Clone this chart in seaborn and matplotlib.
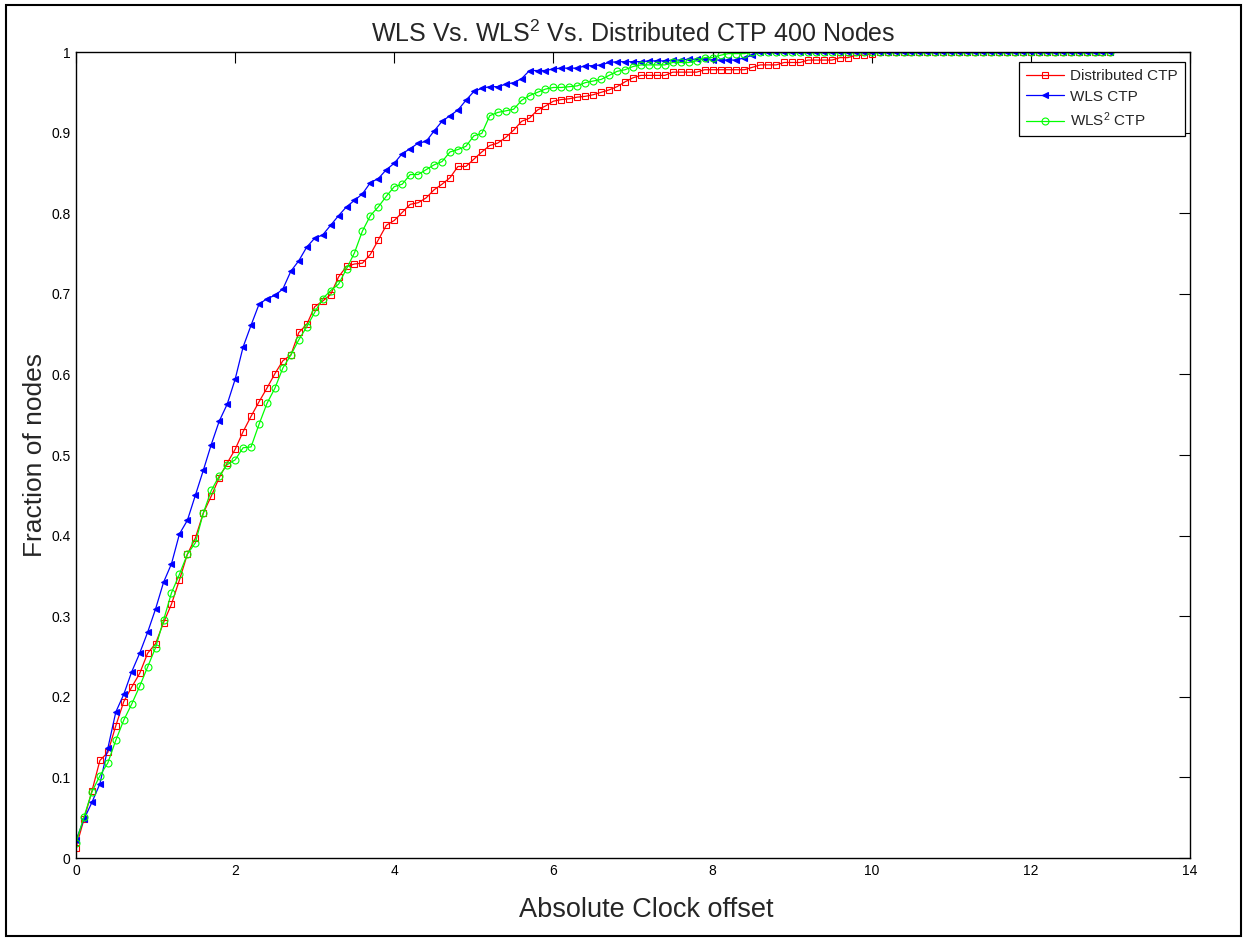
import numpy as np
import pandas as pd
import matplotlib
matplotlib.use("Agg")
import matplotlib.pyplot as plt
import seaborn as sns
from matplotlib.patches import Rectangle

# ---------------- data ----------------
x_offset = [round(0.1 * i, 1) for i in range(131)]  # 0.0 .. 13.0

distributed_ctp = [
    0.013, 0.048, 0.083, 0.121, 0.131, 0.164, 0.194, 0.212, 0.229, 0.254,
    0.266, 0.292, 0.315, 0.345, 0.377, 0.397, 0.428, 0.449, 0.472, 0.490,
    0.507, 0.529, 0.548, 0.566, 0.583, 0.601, 0.617, 0.624, 0.652, 0.662,
    0.684, 0.691, 0.699, 0.721, 0.734, 0.737, 0.738, 0.749, 0.767, 0.785,
    0.791, 0.801, 0.811, 0.813, 0.819, 0.829, 0.836, 0.844, 0.858, 0.858,
    0.867, 0.876, 0.884, 0.887, 0.894, 0.903, 0.914, 0.918, 0.928, 0.933,
    0.939, 0.941, 0.942, 0.944, 0.945, 0.947, 0.950, 0.953, 0.957, 0.963,
    0.968, 0.971, 0.971, 0.971, 0.971, 0.975, 0.975, 0.975, 0.975, 0.978,
    0.978, 0.978, 0.978, 0.978, 0.978, 0.981, 0.984, 0.984, 0.984, 0.987,
    0.987, 0.987, 0.990, 0.990, 0.990, 0.990, 0.993, 0.993, 0.996, 0.996,
    0.998, 1.0, 1.0, 1.0, 1.0, 1.0, 1.0, 1.0, 1.0, 1.0,
    1.0, 1.0, 1.0, 1.0, 1.0, 1.0, 1.0, 1.0, 1.0, 1.0,
    1.0, 1.0, 1.0, 1.0, 1.0, 1.0, 1.0, 1.0, 1.0, 1.0,
    1.0,
]

wls_ctp = [
    0.022, 0.048, 0.069, 0.092, 0.136, 0.181, 0.203, 0.231, 0.254, 0.280,
    0.309, 0.342, 0.365, 0.402, 0.419, 0.450, 0.481, 0.513, 0.542, 0.563,
    0.594, 0.634, 0.661, 0.687, 0.694, 0.698, 0.706, 0.728, 0.741, 0.758,
    0.769, 0.773, 0.785, 0.797, 0.808, 0.816, 0.824, 0.838, 0.843, 0.854,
    0.862, 0.874, 0.880, 0.887, 0.889, 0.902, 0.914, 0.921, 0.928, 0.940,
    0.951, 0.955, 0.957, 0.957, 0.960, 0.962, 0.967, 0.977, 0.977, 0.977,
    0.979, 0.980, 0.980, 0.980, 0.983, 0.983, 0.984, 0.987, 0.988, 0.988,
    0.988, 0.988, 0.989, 0.989, 0.989, 0.990, 0.990, 0.991, 0.991, 0.991,
    0.990, 0.990, 0.990, 0.990, 0.993, 0.996, 1.0, 1.0, 1.0, 1.0,
    1.0, 1.0, 1.0, 1.0, 1.0, 1.0, 1.0, 1.0, 1.0, 1.0,
    1.0, 1.0, 1.0, 1.0, 1.0, 1.0, 1.0, 1.0, 1.0, 1.0,
    1.0, 1.0, 1.0, 1.0, 1.0, 1.0, 1.0, 1.0, 1.0, 1.0,
    1.0, 1.0, 1.0, 1.0, 1.0, 1.0, 1.0, 1.0, 1.0, 1.0,
    1.0,
]

wls2_ctp = [
    0.019, 0.051, 0.082, 0.102, 0.118, 0.146, 0.171, 0.191, 0.213, 0.237,
    0.261, 0.295, 0.329, 0.352, 0.377, 0.391, 0.428, 0.456, 0.474, 0.488,
    0.494, 0.509, 0.510, 0.538, 0.564, 0.583, 0.608, 0.624, 0.643, 0.659,
    0.677, 0.694, 0.704, 0.712, 0.731, 0.751, 0.778, 0.797, 0.808, 0.821,
    0.833, 0.836, 0.848, 0.848, 0.854, 0.860, 0.864, 0.876, 0.879, 0.883,
    0.896, 0.899, 0.921, 0.925, 0.927, 0.929, 0.940, 0.946, 0.950, 0.954,
    0.956, 0.956, 0.957, 0.958, 0.962, 0.964, 0.966, 0.971, 0.976, 0.978,
    0.982, 0.984, 0.984, 0.984, 0.984, 0.987, 0.987, 0.987, 0.989, 0.993,
    0.993, 0.996, 0.998, 0.998, 0.998, 1.0, 1.0, 1.0, 1.0, 1.0,
    1.0, 1.0, 1.0, 1.0, 1.0, 1.0, 1.0, 1.0, 1.0, 1.0,
    1.0, 1.0, 1.0, 1.0, 1.0, 1.0, 1.0, 1.0, 1.0, 1.0,
    1.0, 1.0, 1.0, 1.0, 1.0, 1.0, 1.0, 1.0, 1.0, 1.0,
    1.0, 1.0, 1.0, 1.0, 1.0, 1.0, 1.0, 1.0, 1.0, 1.0,
    1.0,
]

series_names = ["Distributed CTP", "WLS CTP", "WLS$^2$ CTP"]
x_ticks = [0, 2, 4, 6, 8, 10, 12, 14]
y_ticks = [0, 0.1, 0.2, 0.3, 0.4, 0.5, 0.6, 0.7, 0.8, 0.9, 1]
y_tick_labels = ["0", "0.1", "0.2", "0.3", "0.4", "0.5", "0.6", "0.7", "0.8", "0.9", "1"]

# ---------------- style ----------------
sns.set_theme(style="white")
plt.rcParams["font.family"] = ["Liberation Sans", "DejaVu Sans"]
plt.rcParams["mathtext.fontset"] = "custom"
plt.rcParams["mathtext.rm"] = "Liberation Sans"
plt.rcParams["mathtext.default"] = "regular"

fig = plt.figure(figsize=(12.47, 9.40), dpi=100)
fig.patch.set_facecolor("white")
ax = fig.add_axes([76 / 1247, 1 - 858 / 940, (1190 - 76) / 1247, (858 - 52) / 940])

styles = [
    dict(color=(1, 0, 0), marker="s", mfc="none", ms=5, mew=0.8),
    dict(color=(0, 0, 1), marker="<", mfc=(0, 0, 1), ms=4.5, mew=0.8),
    dict(color=(0, 1, 0), marker="o", mfc="none", ms=5, mew=0.8),
]
for name, vals, st in zip(series_names, [distributed_ctp, wls_ctp, wls2_ctp], styles):
    df = pd.DataFrame({"x": x_offset, "y": vals})
    sns.lineplot(data=df, x="x", y="y", ax=ax, color=st["color"], lw=0.9,
                 marker=st["marker"], markersize=st["ms"],
                 markerfacecolor=st["mfc"], markeredgecolor=st["color"],
                 markeredgewidth=st["mew"], label=name)

ax.set_xlim(0, 14)
ax.set_ylim(0, 1)
ax.set_xticks(x_ticks)
ax.set_yticks(y_ticks)
ax.set_yticklabels(y_tick_labels)
ax.tick_params(axis="both", which="both", direction="in", length=8, width=0.8,
               top=True, right=True, labelsize=10, colors="black", pad=4)
for sp in ax.spines.values():
    sp.set_visible(True)
    sp.set_color("black")
    sp.set_linewidth(1.0)

ax.set_xlabel("Absolute Clock offset", fontsize=19.5)
ax.set_ylabel("Fraction of nodes", fontsize=19)
ax.xaxis.set_label_coords((646 - 76) / 1114, -39 / 806)
ax.yaxis.set_label_coords(-29 / 1114, 0.5)
ax.set_title("WLS Vs. WLS$^2$ Vs. Distributed CTP 400 Nodes", fontsize=18, pad=7)

leg = ax.legend(loc="upper right", bbox_to_anchor=(0.9955, 0.9876), borderaxespad=0,
                fontsize=11, frameon=True, fancybox=False, edgecolor="black",
                framealpha=1, handlelength=2.5, borderpad=0.45, labelspacing=0.45,
                handletextpad=0.4)
leg.get_frame().set_linewidth(0.9)

fig.patches.append(Rectangle((6 / 1247, 1 - 936 / 940), (1241 - 6) / 1247, (936 - 5) / 940,
                             transform=fig.transFigure, fill=False, edgecolor="black",
                             linewidth=1.5))

fig.savefig("out.png", dpi=100, facecolor="white")
